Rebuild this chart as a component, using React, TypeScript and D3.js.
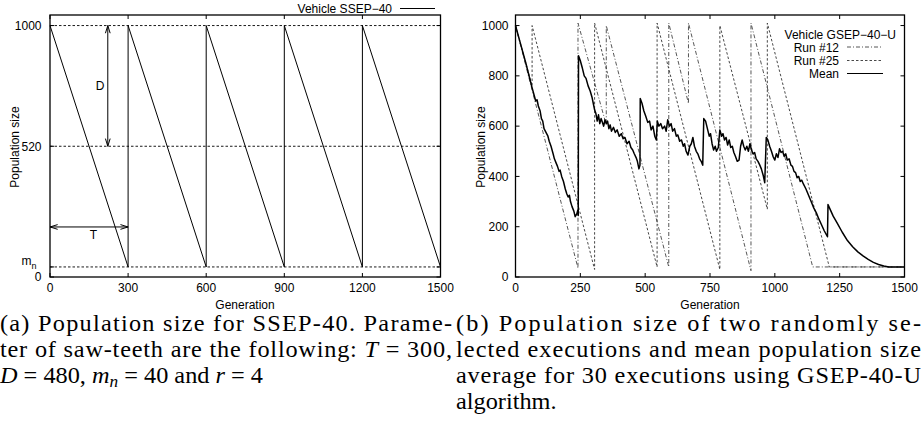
import React from "react";
import * as d3 from "d3";

// ---------- Data: left chart (SSEP-40) ----------
const leftXTicks = [0, 300, 600, 900, 1200, 1500];
const leftYTicks = [0, 40, 520, 1000];
const leftGrid = [40, 520, 1000];
const sawGen = [0, 300, 300, 600, 600, 900, 900, 1200, 1200, 1500];
const sawPop = [1000, 40, 1000, 40, 1000, 40, 1000, 40, 1000, 40];

// ---------- Data: right chart (GSEP-40-U) ----------
const rightXTicks = [0, 250, 500, 750, 1000, 1250, 1500];
const rightYTicks = [0, 200, 400, 600, 800, 1000];
const run12Gen = [0, 241, 241, 350, 350, 591, 591, 667, 667, 908, 908, 1146, 1500];
const run12Pop = [1000, 35, 1010, 605, 1000, 40, 1010, 690, 1010, 25, 1010, 40, 40];
const run25Gen = [0, 64, 64, 305, 305, 546, 546, 788, 788, 971, 971, 1210, 1500];
const run25Pop = [1000, 760, 1000, 30, 1010, 40, 1010, 30, 1000, 270, 1010, 40, 40];
const meanGen = [
  0, 20, 40, 62, 70, 78, 83, 88, 95, 100, 105, 110, 115, 120, 125, 130, 137, 145, 150, 156,
  162, 168, 172, 178, 185, 192, 198, 203, 208, 212, 218, 225, 230, 236, 240, 242, 243, 250, 258, 265,
  272, 280, 288, 295, 300, 305, 310, 315, 320, 325, 330, 335, 340, 345, 350, 355, 360, 365, 370, 378,
  385, 392, 400, 408, 415, 422, 430, 438, 445, 452, 458, 465, 470, 476, 480, 481, 488, 495, 502, 510,
  517, 523, 530, 537, 543, 547, 553, 560, 567, 575, 581, 587, 594, 600, 606, 613, 620, 626, 633, 640,
  647, 652, 658, 665, 672, 678, 684, 690, 697, 703, 710, 716, 722, 726, 733, 740, 747, 752, 758, 764,
  770, 775, 782, 788, 795, 800, 806, 812, 818, 824, 830, 836, 842, 848, 855, 862, 868, 874, 880, 886,
  892, 898, 904, 910, 916, 922, 928, 935, 942, 948, 955, 961, 967, 973, 980, 987, 993, 1000, 1006, 1012,
  1018, 1024, 1030, 1036, 1042, 1048, 1055, 1062, 1068, 1074, 1080, 1086, 1092, 1098, 1104, 1110, 1120, 1130, 1140, 1150,
  1160, 1170, 1180, 1190, 1203, 1205, 1215, 1225, 1240, 1260, 1280, 1300, 1320, 1340, 1360, 1380, 1400, 1420, 1440, 1500,
];
const meanPop = [
  1000, 925, 850, 760, 730, 700, 705, 680, 660, 630, 620, 590, 580, 570, 560, 540, 520, 490, 470, 455,
  440, 420, 425, 400, 380, 350, 330, 318, 325, 300, 280, 262, 240, 250, 265, 245, 880, 860, 830, 800,
  790, 760, 740, 715, 690, 665, 650, 620, 645, 610, 630, 615, 600, 625, 610, 620, 590, 605, 580, 595,
  575, 585, 560, 570, 550, 555, 530, 540, 515, 505, 490, 475, 460, 430, 445, 710, 690, 660, 640, 615,
  620, 585, 600, 560, 545, 620, 600, 610, 590, 600, 580, 625, 600, 610, 580, 590, 560, 565, 540, 545,
  520, 530, 500, 485, 520, 530, 555, 520, 500, 490, 470, 460, 445, 630, 620, 590, 560, 570, 530, 505,
  520, 500, 515, 585, 560, 570, 545, 555, 525, 545, 515, 520, 495, 480, 460, 465, 520, 545, 520, 505,
  520, 500, 530, 505, 490, 495, 470, 460, 445, 430, 405, 375, 555, 545, 520, 500, 480, 465, 490, 475,
  510, 495, 500, 480, 490, 465, 470, 445, 440, 420, 415, 395, 400, 380, 385, 370, 350, 325, 300, 275,
  255, 230, 208, 185, 160, 288, 265, 242, 215, 178, 145, 120, 100, 84, 70, 58, 50, 44, 40, 40,
];

const SANS = "'Liberation Sans', Arial, Helvetica, sans-serif";
const SERIF = "'Liberation Serif', 'Times New Roman', serif";
const SX = 1.08; // horizontal widening of the serif caption font

type Sc = d3.ScaleLinear<number, number>;

function Frame({ x, y, xt, yt, tick = 4 }: { x: Sc; y: Sc; xt: number[]; yt: number[]; tick?: number }) {
  const [x0, x1] = x.range();
  const [y0, y1] = y.range();
  return (
    <g stroke="#000" strokeWidth={1}>
      {xt.map((t) => (
        <g key={"x" + t}>
          <line x1={x(t)} x2={x(t)} y1={y0} y2={y0 - tick} />
          <line x1={x(t)} x2={x(t)} y1={y1} y2={y1 + tick} />
        </g>
      ))}
      {yt.map((t) => (
        <g key={"y" + t}>
          <line x1={x0} x2={x0 + tick} y1={y(t)} y2={y(t)} />
          <line x1={x1} x2={x1 - tick} y1={y(t)} y2={y(t)} />
        </g>
      ))}
      <rect x={x0} y={y1} width={x1 - x0} height={y0 - y1} fill="none" strokeWidth={1.3} />
    </g>
  );
}

function Arrow({ x1, y1, x2, y2 }: { x1: number; y1: number; x2: number; y2: number }) {
  const ang = Math.atan2(y2 - y1, x2 - x1);
  const L = 8, a = 0.3;
  const head = (tx: number, ty: number, dir: number) => {
    const p1 = [tx - L * Math.cos(dir - a), ty - L * Math.sin(dir - a)];
    const p2 = [tx - L * Math.cos(dir + a), ty - L * Math.sin(dir + a)];
    return `M${p1[0]},${p1[1]}L${tx},${ty}L${p2[0]},${p2[1]}`;
  };
  return (
    <g stroke="#000" strokeWidth={1} fill="none">
      <line x1={x1} y1={y1} x2={x2} y2={y2} />
      <path d={head(x2, y2, ang)} />
      <path d={head(x1, y1, ang + Math.PI)} />
    </g>
  );
}

function CapLine({ x, y, w, children }: { x: number; y: number; w?: number; children: React.ReactNode }) {
  return w ? (
    <text x={x / SX} y={y} textLength={w / SX} lengthAdjust="spacing">{children}</text>
  ) : (
    <text x={x / SX} y={y}>{children}</text>
  );
}

export default function App() {
  const yL = d3.scaleLinear().domain([0, 1042]).range([277, 15]);
  const xL = d3.scaleLinear().domain([0, 1500]).range([50, 440.5]);
  const xR = d3.scaleLinear().domain([0, 1500]).range([515.5, 904.5]);
  const yR = d3.scaleLinear().domain([0, 1042]).range([277, 15]);

  const lineL = d3.line<number>().x((_, i) => xL(sawGen[i])).y((d) => yL(d));
  const mk = (gen: number[]) => d3.line<number>().x((_, i) => xR(gen[i])).y((d) => yR(d));

  const leftYLabels: Record<number, string> = { 0: "0", 520: "520", 1000: "1000" };

  return (
    <svg width={921} height={432} style={{ position: "absolute", left: 0, top: 0, background: "#fff" }}
      fontFamily={SANS}>
      {/* ---------------- Left chart ---------------- */}
      <g>
        {leftGrid.map((g) => (
          <line key={g} x1={xL(0)} x2={xL(1500)} y1={yL(g)} y2={yL(g)} stroke="#000" strokeWidth={0.9} strokeDasharray="2.5,2" />
        ))}
        <path d={lineL(sawPop) || ""} fill="none" stroke="#000" strokeWidth={1} />
        <Frame x={xL} y={yL} xt={leftXTicks} yt={leftYTicks} />
        <Arrow x1={xL(222)} y1={yL(1000)} x2={xL(222)} y2={yL(520)} />
        <Arrow x1={xL(0)} y1={yL(199)} x2={xL(300)} y2={yL(199)} />
        <text x={100} y={90} fontSize={12} textAnchor="middle">D</text>
        <text x={93.5} y={239} fontSize={12} textAnchor="middle">T</text>
        {leftXTicks.map((t) => (
          <text key={t} x={xL(t)} y={292} fontSize={12} textAnchor="middle">{t}</text>
        ))}
        {leftYTicks.map((t) =>
          t === 40 ? (
            <text key={t} x={36.5} y={yL(t) - 2} fontSize={12} textAnchor="end">
              m<tspan fontSize={9} dy={4}>n</tspan>
            </text>
          ) : (
            <text key={t} x={41.5} y={yL(t) + 4.3} fontSize={12} textAnchor="end">{leftYLabels[t]}</text>
          )
        )}
        <text transform={`translate(19,147) rotate(-90)`} fontSize={12} textAnchor="middle">Population size</text>
        <text x={245} y={309} fontSize={12} textAnchor="middle">Generation</text>
        <text x={392} y={12.5} fontSize={12} textAnchor="end">Vehicle SSEP−40</text>
        <line x1={400} x2={435} y1={8.5} y2={8.5} stroke="#000" strokeWidth={1} />
      </g>

      {/* ---------------- Right chart ---------------- */}
      <g>
        <path d={mk(run12Gen)(run12Pop) || ""} fill="none" stroke="#444" strokeWidth={0.9} strokeDasharray="4,2,1,2" />
        <path d={mk(run25Gen)(run25Pop) || ""} fill="none" stroke="#333" strokeWidth={0.9} strokeDasharray="2.5,2" />
        <path d={mk(meanGen)(meanPop) || ""} fill="none" stroke="#000" strokeWidth={1.5} strokeLinejoin="round" />
        <Frame x={xR} y={yR} xt={rightXTicks} yt={rightYTicks} />
        {rightXTicks.map((t) => (
          <text key={t} x={xR(t)} y={292} fontSize={12} textAnchor="middle">{t}</text>
        ))}
        {rightYTicks.map((t) => (
          <text key={t} x={508.5} y={yR(t) + 4.3} fontSize={12} textAnchor="end">{t}</text>
        ))}
        <text transform={`translate(485,147) rotate(-90)`} fontSize={12} textAnchor="middle">Population size</text>
        <text x={710} y={309} fontSize={12} textAnchor="middle">Generation</text>
        <text x={896} y={38.5} fontSize={12} textAnchor="end">Vehicle GSEP−40−U</text>
        <text x={839} y={51.5} fontSize={12} textAnchor="end">Run #12</text>
        <line x1={847} x2={883} y1={47} y2={47} stroke="#444" strokeWidth={0.9} strokeDasharray="4,2,1,2" />
        <text x={839} y={64.5} fontSize={12} textAnchor="end">Run #25</text>
        <line x1={847} x2={883} y1={60.5} y2={60.5} stroke="#333" strokeWidth={0.9} strokeDasharray="2.5,2" />
        <text x={839} y={77.5} fontSize={12} textAnchor="end">Mean</text>
        <line x1={847} x2={883} y1={73.5} y2={73.5} stroke="#000" strokeWidth={1.2} />
      </g>

      {/* ---------------- Captions ---------------- */}
      <g fontFamily={SERIF} fontSize={22.5} transform={`scale(${SX},1)`}>
        <CapLine x={0} y={331} w={452}>(a) Population size for SSEP-40. Parame-</CapLine>
        <CapLine x={0} y={357} w={452}>
          ter of saw-teeth are the following: <tspan fontStyle="italic">T</tspan> = 300,
        </CapLine>
        <CapLine x={0} y={383}>
          <tspan fontStyle="italic">D</tspan> = 480, <tspan fontStyle="italic">m</tspan>
          <tspan fontStyle="italic" fontSize={16} dy={4}>n</tspan>
          <tspan dy={-4}> = 40 and </tspan>
          <tspan fontStyle="italic">r</tspan> = 4
        </CapLine>
        <CapLine x={456} y={331} w={465}>(b) Population size of two randomly se-</CapLine>
        <CapLine x={456} y={357} w={465}>lected executions and mean population size</CapLine>
        <CapLine x={456} y={383} w={465}>average for 30 executions using GSEP-40-U</CapLine>
        <CapLine x={456} y={409}>algorithm.</CapLine>
      </g>
    </svg>
  );
}
